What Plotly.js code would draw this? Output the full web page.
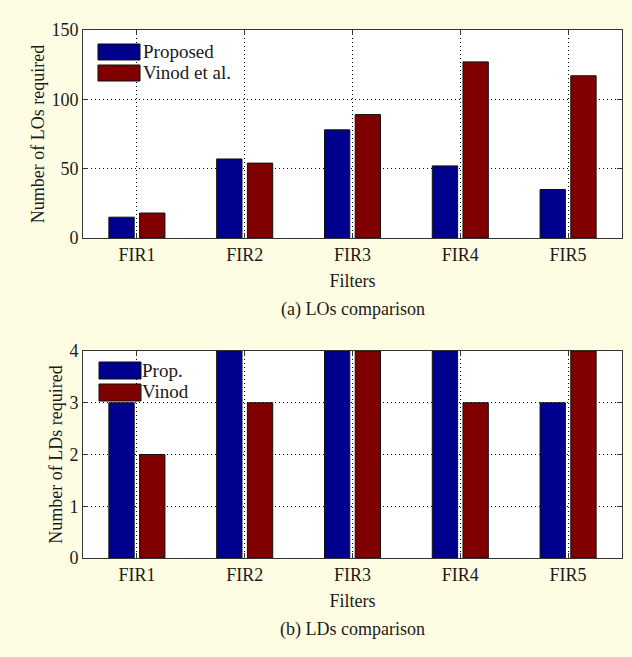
<!DOCTYPE html>
<html>
<head>
<meta charset="utf-8">
<script src="https://cdn.plot.ly/plotly-3.0.1.min.js"></script>
<style>
html,body{margin:0;padding:0;background:#FEFDE4;}
#chart{width:632px;height:657px;}
</style>
</head>
<body>
<div id="chart"></div>
<script>
// ---- data ----
const categories = ['FIR1', 'FIR2', 'FIR3', 'FIR4', 'FIR5'];
const losProposed = [15, 57, 78, 52, 35];
const losVinod = [18, 54, 89, 127, 117];
const ldsProposed = [3, 4, 4, 4, 3];
const ldsVinod = [2, 3, 4, 3, 4];
const losTicks = [0, 50, 100, 150];
const ldsTicks = [0, 1, 2, 3, 4];
const seriesNamesTop = ['Proposed', 'Vinod et al.'];
const seriesNamesBottom = ['Prop.', 'Vinod'];
const xTitle = 'Filters';
const yTitleTop = 'Number of LOs required';
const yTitleBottom = 'Number of LDs required';
const captionTop = '(a) LOs comparison';
const captionBottom = '(b) LDs comparison';

// ---- styles ----
const blue = '#00008F';
const red = '#800000';
const FONT = 'Liberation Serif';
const txt = '#1a1a1a';

function bar(x, y, color, xa, ya, name) {
  return {
    type: 'bar', x: x, y: y, name: name, xaxis: xa, yaxis: ya,
    marker: {color: color, line: {color: '#111', width: 1}},
    showlegend: false, hoverinfo: 'x+y'
  };
}

const traces = [
  bar(categories, losProposed, blue, 'x', 'y', seriesNamesTop[0]),
  bar(categories, losVinod, red, 'x', 'y', seriesNamesTop[1]),
  bar(categories, ldsProposed, blue, 'x2', 'y2', seriesNamesBottom[0]),
  bar(categories, ldsVinod, red, 'x2', 'y2', seriesNamesBottom[1])
];

function xAxis(anchor) {
  return {
    anchor: anchor, domain: [0, 1], type: 'category',
    range: [-0.5, categories.length - 0.5],
    showline: true, linecolor: '#333', linewidth: 1, mirror: 'ticks',
    ticks: 'inside', ticklen: 5, tickcolor: '#333',
    showgrid: true, gridcolor: '#000', griddash: '1px,3px', gridwidth: 1,
    tickfont: {family: FONT, size: 18, color: txt},
    title: {text: xTitle, font: {family: FONT, size: 18, color: txt}, standoff: 10},
    zeroline: false, fixedrange: true
  };
}
function yAxis(anchor, domain, ticks, title) {
  return {
    anchor: anchor, domain: domain,
    range: [ticks[0], ticks[ticks.length - 1]],
    tickvals: ticks, ticktext: ticks.map(String),
    showline: true, linecolor: '#333', linewidth: 1, mirror: 'ticks',
    ticks: 'inside', ticklen: 5, tickcolor: '#333',
    showgrid: true, gridcolor: '#000', griddash: '1px,3px', gridwidth: 1,
    tickfont: {family: FONT, size: 18, color: txt},
    title: {text: title, font: {family: FONT, size: 18, color: txt}, standoff: 2},
    zeroline: false, fixedrange: true
  };
}

const topDom = [(657 - 238) / 657, (657 - 30) / 657];
const botDom = [(657 - 558) / 657, (657 - 351) / 657];

function legendItems(xa, ya, names, sw, tx) {
  const shapes = [], anns = [];
  const colors = [blue, red];
  for (let i = 0; i < 2; i++) {
    shapes.push({
      type: 'rect', xref: xa + ' domain', yref: ya + ' domain',
      x0: sw.x0, x1: sw.x1, y0: sw.ys[i][0], y1: sw.ys[i][1],
      fillcolor: colors[i], line: {color: '#111', width: 1}, layer: 'above'
    });
    anns.push({
      xref: xa + ' domain', yref: ya + ' domain', x: tx.x, y: tx.ys[i],
      xanchor: 'left', yanchor: 'middle', showarrow: false, text: names[i],
      font: {family: FONT, size: 19, color: txt}
    });
  }
  return {shapes, anns};
}

const legTop = legendItems('x', 'y', seriesNamesTop,
  {x0: 0.0278, x1: 0.1058, ys: [[0.8558, 0.9327], [0.7548, 0.8317]]},
  {x: 0.108, ys: [0.896, 0.794]});
const legBot = legendItems('x2', 'y2', seriesNamesBottom,
  {x0: 0.0297, x1: 0.1076, ys: [[0.8647, 0.9469], [0.7585, 0.8406]]},
  {x: 0.106, ys: [0.908, 0.802]});

const layout = {
  width: 632, height: 657,
  margin: {l: 83, r: 10, t: 0, b: 0},
  paper_bgcolor: '#FEFDE4', plot_bgcolor: '#FFFFFF',
  barmode: 'group', bargap: 0.43, bargroupgap: 0.175,
  showlegend: false,
  xaxis: xAxis('y'),
  yaxis: yAxis('x', topDom, losTicks, yTitleTop),
  xaxis2: xAxis('y2'),
  yaxis2: yAxis('x2', botDom, ldsTicks, yTitleBottom),
  shapes: legTop.shapes.concat(legBot.shapes),
  annotations: legTop.anns.concat(legBot.anns).concat([
    {xref: 'paper', yref: 'paper', x: 0.5, y: (657 - 309) / 657, xanchor: 'center', yanchor: 'middle',
     showarrow: false, text: captionTop, font: {family: FONT, size: 18, color: txt}},
    {xref: 'paper', yref: 'paper', x: 0.5, y: (657 - 629) / 657, xanchor: 'center', yanchor: 'middle',
     showarrow: false, text: captionBottom, font: {family: FONT, size: 18, color: txt}}
  ])
};

Plotly.newPlot('chart', traces, layout, {displayModeBar: false, staticPlot: true});
</script>
</body>
</html>
